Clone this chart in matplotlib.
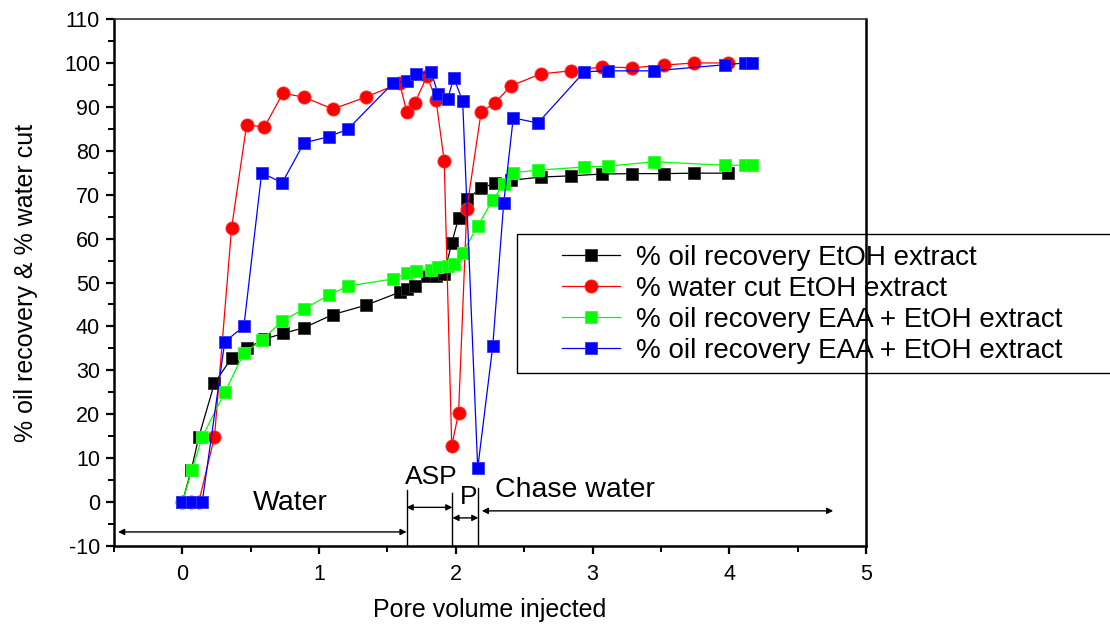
import matplotlib
matplotlib.use("Agg")
import matplotlib.pyplot as plt
from matplotlib.patches import Rectangle
from matplotlib.ticker import MultipleLocator

plt.rcParams['font.family'] = ['Liberation Sans', 'DejaVu Sans']
plt.rcParams['axes.unicode_minus'] = False

# Pore volumes for the EtOH-extract run (oil recovery and water cut)
pv_etoh = [0, 0.065, 0.12, 0.235, 0.36, 0.47, 0.60, 0.735, 0.89, 1.10, 1.34,
           1.59, 1.64, 1.70, 1.79, 1.855, 1.915, 1.97, 2.02, 2.08, 2.185,
           2.285, 2.405, 2.62, 2.84, 3.07, 3.29, 3.52, 3.74, 3.99]
oil_etoh = [0, 7.3, 14.8, 27.1, 32.8, 35.0, 37.1, 38.4, 39.7, 42.7, 44.8,
            47.8, 48.5, 49.2, 51.5, 51.5, 51.9, 59.0, 64.7, 69.0, 71.5,
            72.6, 73.3, 74.0, 74.3, 74.7, 74.8, 74.8, 74.9, 74.9]
wcut_etoh = [0, 0, 0, 14.9, 62.4, 85.9, 85.4, 93.1, 92.2, 89.5, 92.2,
             95.4, 88.9, 90.9, 97.0, 91.6, 77.7, 12.8, 20.3, 66.7, 88.8,
             90.9, 94.8, 97.5, 98.2, 99.1, 98.9, 99.5, 100.0, 100.0]

# Pore volumes for the EAA + EtOH run
pv_eaa = [0, 0.07, 0.145, 0.31, 0.45, 0.58, 0.73, 0.89, 1.07, 1.21, 1.54,
          1.64, 1.71, 1.82, 1.87, 1.94, 1.985, 2.05, 2.16, 2.27, 2.35, 2.42,
          2.60, 2.94, 3.11, 3.45, 3.97, 4.115, 4.165]
oil_eaa = [0, 7.3, 14.8, 25.0, 33.9, 36.9, 41.2, 44.0, 47.1, 49.2, 50.8,
           52.1, 52.6, 52.8, 53.5, 53.8, 54.2, 56.7, 62.9, 68.8, 72.4, 75.0,
           75.6, 76.3, 76.5, 77.5, 76.7, 76.7, 76.7]
oil_eaa_b = [0, 0, 0, 36.5, 40.0, 75.0, 72.7, 81.8, 83.2, 84.9, 95.4,
             95.9, 97.5, 98.0, 92.9, 91.8, 96.6, 91.3, 7.7, 35.5, 68.0, 87.5,
             86.3, 98.0, 98.2, 98.2, 99.6, 100.0, 100.0]

labels = ["% oil recovery EtOH extract",
          "% water cut EtOH extract",
          "% oil recovery EAA + EtOH extract",
          "% oil recovery EAA + EtOH extract"]

fig = plt.figure(figsize=(11.10, 6.24), dpi=100)
ax = fig.add_axes([0.1027, 0.125, 0.6775, 0.8445])

sq = dict(marker='s', markersize=8, lw=0.9, markeredgewidth=0.6)
h1, = ax.plot(pv_etoh, oil_etoh, color='black', mfc='black', mec='#333333',
              label=labels[0], **sq)
h2, = ax.plot(pv_etoh, wcut_etoh, color='red', marker='o', markersize=9.5,
              lw=0.9, mfc='red', mec='#ff3333', markeredgewidth=0.6,
              label=labels[1])
h3, = ax.plot(pv_eaa, oil_eaa, color='#00ff00', mfc='#00ff00', mec='#33ff33',
              label=labels[2], **sq)
h4, = ax.plot(pv_eaa, oil_eaa_b, color='blue', mfc='blue', mec='#3333ff',
              label=labels[3], **sq)

ax.set_xlim(-0.5, 5)
ax.set_ylim(-10, 110)
ax.xaxis.set_major_locator(MultipleLocator(1))
ax.xaxis.set_minor_locator(MultipleLocator(0.5))
ax.yaxis.set_major_locator(MultipleLocator(10))
ax.yaxis.set_minor_locator(MultipleLocator(5))
ax.tick_params(which='major', direction='out', length=6, width=1.6,
               labelsize=15.5, top=False, right=False)
ax.tick_params(axis='x', which='major', pad=7)
ax.tick_params(axis='y', which='major', pad=4)
ax.tick_params(which='minor', direction='out', length=4, width=1.4,
               top=False, right=False)
for side in ('left', 'bottom', 'right'):
    ax.spines[side].set_linewidth(1.8)
ax.spines['top'].set_linewidth(1.2)
ax.spines['top'].set_color('#333333')

ax.set_xlabel("Pore volume injected", fontsize=18, labelpad=9)
ax.set_ylabel("% oil recovery & % water cut", fontsize=18, labelpad=19)

# Injection stage markers
arrow_kw = dict(arrowstyle='<|-|>', color='black', lw=1.0,
                mutation_scale=9, shrinkA=0, shrinkB=0)
for xv, ytop in [(1.64, 2.7), (1.975, 2.0), (2.165, 3.2)]:
    ax.plot([xv, xv], [-10, ytop], color='black', lw=1.0)
ax.annotate('', xy=(-0.47, -6.8), xytext=(1.64, -6.8), arrowprops=arrow_kw)
ax.annotate('', xy=(1.64, -1.2), xytext=(1.975, -1.2), arrowprops=arrow_kw)
ax.annotate('', xy=(1.975, -3.6), xytext=(2.165, -3.6), arrowprops=arrow_kw)
ax.annotate('', xy=(2.19, -2.0), xytext=(4.76, -2.0), arrowprops=arrow_kw)
ax.text(0.79, -0.3, "Water", fontsize=20.5, ha='center', va='center')
ax.text(1.82, 4.2, "ASP", fontsize=19, ha='center', va='baseline')
ax.text(2.09, -0.5, "P", fontsize=19, ha='center', va='baseline')
ax.text(2.87, 2.7, "Chase water", fontsize=20.5, ha='center', va='center')

# Legend frame runs off the right edge of the figure
fig.patches.append(Rectangle((517 / 1110, 1 - 373 / 624), 0.6, (373 - 234) / 624,
                             transform=fig.transFigure, fill=False,
                             edgecolor='black', lw=1.0, zorder=5))
leg = fig.legend(handles=[h1, h2, h3, h4], loc='upper left',
                 bbox_to_anchor=(562 / 1110, 1 - 245 / 624), frameon=False,
                 fontsize=20, handlelength=2.1, handletextpad=0.55,
                 labelspacing=0.18, borderpad=0, borderaxespad=0)

fig.savefig("out.png", dpi=100)
